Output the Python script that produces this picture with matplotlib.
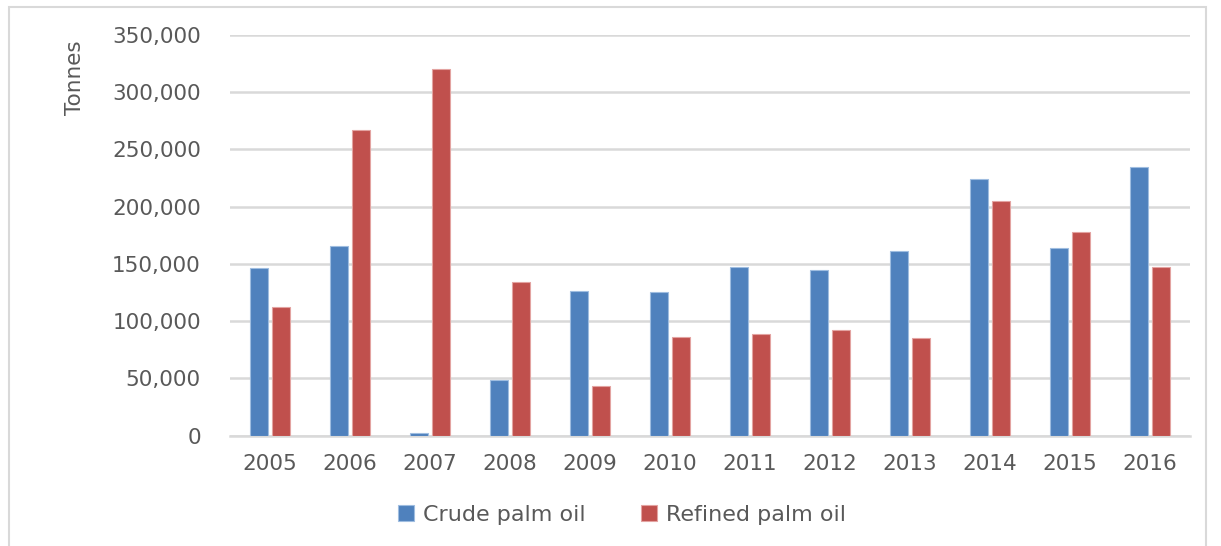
import numpy as np
import matplotlib.pyplot as plt
from matplotlib.patches import Rectangle
from matplotlib.ticker import FuncFormatter

years = ["2005", "2006", "2007", "2008", "2009", "2010",
         "2011", "2012", "2013", "2014", "2015", "2016"]
crude = [146000, 166000, 2500, 48800, 126000, 125400,
         146900, 145000, 160800, 224000, 163600, 235000]
refined = [112000, 266800, 320400, 134400, 43300, 86500,
           88800, 91900, 85500, 205300, 177900, 147000]

blue = "#4F81BD"
red = "#C0504D"
txt = "#595959"

fig = plt.figure(figsize=(12.21, 5.46), dpi=100)
ax = fig.add_axes([230/1221, 110.5/546, 960/1221, 400.5/546])

x = np.arange(len(years))
w = 0.225
ax.bar(x - 0.14, crude, w, color=blue, edgecolor="#9fbde0", linewidth=0.8, label="Crude palm oil", zorder=3)
ax.bar(x + 0.14, refined, w, color=red, edgecolor="#e3a3a1", linewidth=0.8, label="Refined palm oil", zorder=3)

ax.set_xlim(-0.5, len(years) - 0.5)
ax.set_ylim(0, 350000)
ax.set_yticks(np.arange(0, 350001, 50000))
ax.yaxis.set_major_formatter(FuncFormatter(lambda v, p: f"{int(v):,}"))
ax.set_xticks(x)
ax.set_xticklabels(years)
ax.grid(axis="y", color="#d9d9d9", linewidth=1.8, zorder=0)
for s in ["top", "right", "left"]:
    ax.spines[s].set_visible(False)
ax.spines["bottom"].set_color("#d9d9d9")
ax.spines["bottom"].set_linewidth(1.8)
ax.tick_params(axis="both", length=0, colors=txt, labelsize=15.5)
ax.tick_params(axis="y", pad=21)
ax.tick_params(axis="x", pad=13)

fig.text(75/1221, 1 - 78/546, "Tonnes", rotation=90, ha="center", va="center",
         color=txt, fontsize=15.5)

fig.legend(loc="center", bbox_to_anchor=(622/1221, 1 - 515/546), ncol=2,
           frameon=False, fontsize=16, labelcolor=txt, handlelength=0.7,
           handleheight=0.7, handletextpad=0.4, columnspacing=2.5)

fig.patches.append(Rectangle((9/1221, -0.05), (1206-9)/1221, 1.05 - 7/546,
                             transform=fig.transFigure, fill=False,
                             edgecolor="#d9d9d9", linewidth=1.5))

fig.savefig("out.png", dpi=100)
